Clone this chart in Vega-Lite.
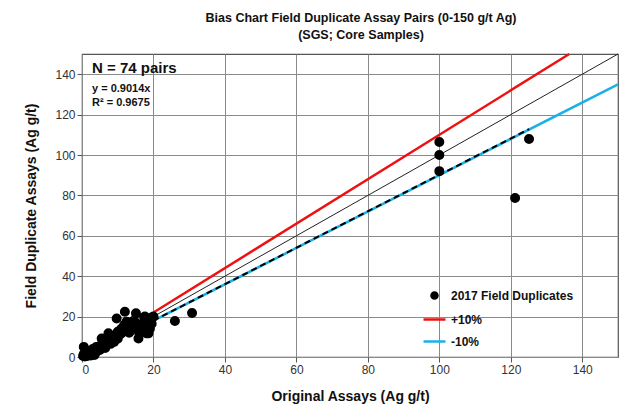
{
  "$schema": "https://vega.github.io/schema/vega-lite/v6.json",
  "autosize": "none",
  "width": 536,
  "height": 303,
  "padding": {"left": 82, "top": 54, "right": 22, "bottom": 53},
  "background": "white",
  "config": {
    "font": "Liberation Sans",
    "view": {"stroke": "#555", "strokeWidth": 1.2},
    "axis": {"gridColor": "#8a8a8a", "gridWidth": 1, "gridOpacity": 1, "domain": false, "tickColor": "#555", "tickSize": 5, "labelFontSize": 12, "labelColor": "#333", "titleFontSize": 14, "titleColor": "#111", "titleFontWeight": "bold"},
    "legend": {"orient": "none", "legendX": 340, "legendY": 229, "labelFontSize": 12, "labelFontWeight": "bold", "labelColor": "#111", "rowPadding": 3, "symbolSize": 484, "symbolStrokeWidth": 2.5, "labelOffset": 4}
  },
  "title": {
    "text": ["Bias Chart Field Duplicate Assay Pairs (0-150 g/t Ag)", "(SGS; Core Samples)"],
    "fontSize": 12.5, "fontWeight": "bold", "color": "#111", "anchor": "middle", "offset": 8, "lineHeight": 17, "dx": 11
  },
  "datasets": {
    "pts": [
      {"x": 0.3, "y": 0.5}, {"x": 0.5, "y": 5}, {"x": 0.8, "y": 0.3}, {"x": 1, "y": 1.2}, {"x": 1.5, "y": 0.5},
      {"x": 1.5, "y": 2}, {"x": 2, "y": 1}, {"x": 2, "y": 3}, {"x": 2.5, "y": 2}, {"x": 3, "y": 1.5},
      {"x": 3, "y": 4}, {"x": 3.5, "y": 3}, {"x": 4, "y": 5}, {"x": 4, "y": 2.5}, {"x": 4.5, "y": 4},
      {"x": 5, "y": 5.5}, {"x": 5, "y": 3.5}, {"x": 5.5, "y": 9.2}, {"x": 6, "y": 6}, {"x": 6, "y": 7.5},
      {"x": 6.5, "y": 5}, {"x": 7, "y": 7}, {"x": 7.4, "y": 11.7}, {"x": 7.5, "y": 8.5}, {"x": 8, "y": 6.5},
      {"x": 8, "y": 10}, {"x": 8.5, "y": 8}, {"x": 9, "y": 10.5}, {"x": 9.7, "y": 19.1}, {"x": 10, "y": 9},
      {"x": 10, "y": 12.5}, {"x": 10.5, "y": 11}, {"x": 11, "y": 11.7}, {"x": 11, "y": 14}, {"x": 11.8, "y": 15.8},
      {"x": 12, "y": 22.4}, {"x": 12, "y": 13}, {"x": 12.5, "y": 14.5}, {"x": 13.2, "y": 12}, {"x": 13, "y": 17},
      {"x": 13.9, "y": 15.8}, {"x": 14, "y": 13.5}, {"x": 14.5, "y": 18}, {"x": 15.1, "y": 21.6}, {"x": 15, "y": 17},
      {"x": 15.8, "y": 9.2}, {"x": 16.2, "y": 15.8}, {"x": 16, "y": 12}, {"x": 16.5, "y": 14}, {"x": 17.4, "y": 19.6},
      {"x": 17, "y": 15}, {"x": 17.6, "y": 20}, {"x": 18.1, "y": 11.7}, {"x": 18, "y": 16.5}, {"x": 18.6, "y": 18},
      {"x": 19, "y": 18.7}, {"x": 19.5, "y": 19.5}, {"x": 19.5, "y": 16.5}, {"x": 20, "y": 20}, {"x": 19, "y": 14},
      {"x": 18.6, "y": 11.7}, {"x": 9, "y": 7.5}, {"x": 2.5, "y": 0.8}, {"x": 0.5, "y": 1.5}, {"x": 3.5, "y": 1},
      {"x": 6.5, "y": 4.5}, {"x": 12.5, "y": 17.5},
      {"x": 26, "y": 17.8}, {"x": 30.8, "y": 21.8}, {"x": 100, "y": 106.4}, {"x": 100, "y": 100}, {"x": 100, "y": 92},
      {"x": 121.2, "y": 78.7}, {"x": 125.1, "y": 107.9}
    ],
    "bands": [
      {"series": "+10%", "x": 20, "y": 22},
      {"series": "+10%", "x": 136.36, "y": 150},
      {"series": "-10%", "x": 20, "y": 18},
      {"series": "-10%", "x": 150, "y": 135}
    ],
    "oneone": [{"x": 0, "y": 0}, {"x": 150, "y": 150}],
    "trend": [{"x": 0, "y": 0}, {"x": 125.1, "y": 112.8}],
    "notes": [
      {"x": 2.8, "y": 143, "t": "N = 74 pairs", "s": 15},
      {"x": 2.8, "y": 132.5, "t": "y = 0.9014x", "s": 11},
      {"x": 2.8, "y": 125.5, "t": "R² = 0.9675", "s": 11}
    ]
  },
  "encoding": {
    "x": {"field": "x", "type": "quantitative", "scale": {"domain": [0, 150], "nice": false}, "axis": {"values": [0, 20, 40, 60, 80, 100, 120, 140], "title": "Original Assays (Ag g/t)", "titlePadding": 14}},
    "y": {"field": "y", "type": "quantitative", "scale": {"domain": [0, 150], "nice": false}, "axis": {"values": [0, 20, 40, 60, 80, 100, 120, 140], "title": "Field Duplicate Assays (Ag g/t)", "titlePadding": 16}}
  },
  "layer": [
    {"data": {"name": "oneone"}, "mark": {"type": "line", "color": "#222", "strokeWidth": 1}, "encoding": {}},
    {"data": {"name": "bands"}, "mark": {"type": "line", "strokeWidth": 2.5},
     "encoding": {
       "detail": {"field": "series"},
       "stroke": {"field": "series", "type": "nominal", "title": null, "scale": {"domain": ["2017 Field Duplicates", "+10%", "-10%"], "range": ["#000000", "#ee1111", "#1ab0e8"]},
         "legend": {"encode": {"symbols": {"update": {"size": {"signal": "datum.value === '2017 Field Duplicates' ? 36 : 484"}}}}}}
     }},
    {"data": {"name": "trend"}, "mark": {"type": "line", "color": "#000", "strokeWidth": 2, "strokeDash": [6, 4]}, "encoding": {}},
    {"data": {"name": "pts"}, "transform": [{"calculate": "'2017 Field Duplicates'", "as": "series"}],
     "mark": {"type": "point", "filled": true, "size": 64, "opacity": 1},
     "encoding": {
       "fill": {"field": "series", "type": "nominal", "title": null, "scale": {"domain": ["2017 Field Duplicates", "+10%", "-10%"], "range": ["#000000", "#ee1111", "#1ab0e8"]},
         "legend": {"encode": {"symbols": {"update": {"size": {"signal": "datum.value === '2017 Field Duplicates' ? 36 : 484"}}}}}},
       "stroke": {"field": "series", "type": "nominal", "title": null, "scale": {"domain": ["2017 Field Duplicates", "+10%", "-10%"], "range": ["#000000", "#ee1111", "#1ab0e8"]},
         "legend": {"encode": {"symbols": {"update": {"size": {"signal": "datum.value === '2017 Field Duplicates' ? 36 : 484"}}}}}},
       "shape": {"field": "series", "type": "nominal", "title": null, "scale": {"domain": ["2017 Field Duplicates", "+10%", "-10%"], "range": ["circle", "stroke", "stroke"]},
         "legend": {"encode": {"symbols": {"update": {"size": {"signal": "datum.value === '2017 Field Duplicates' ? 36 : 484"}}}}}}
     }},
    {"data": {"name": "notes"}, "mark": {"type": "text", "align": "left", "baseline": "middle", "fontWeight": "bold", "color": "#111"},
     "encoding": {"text": {"field": "t"}, "size": {"field": "s", "type": "quantitative", "scale": null}}}
  ]
}
